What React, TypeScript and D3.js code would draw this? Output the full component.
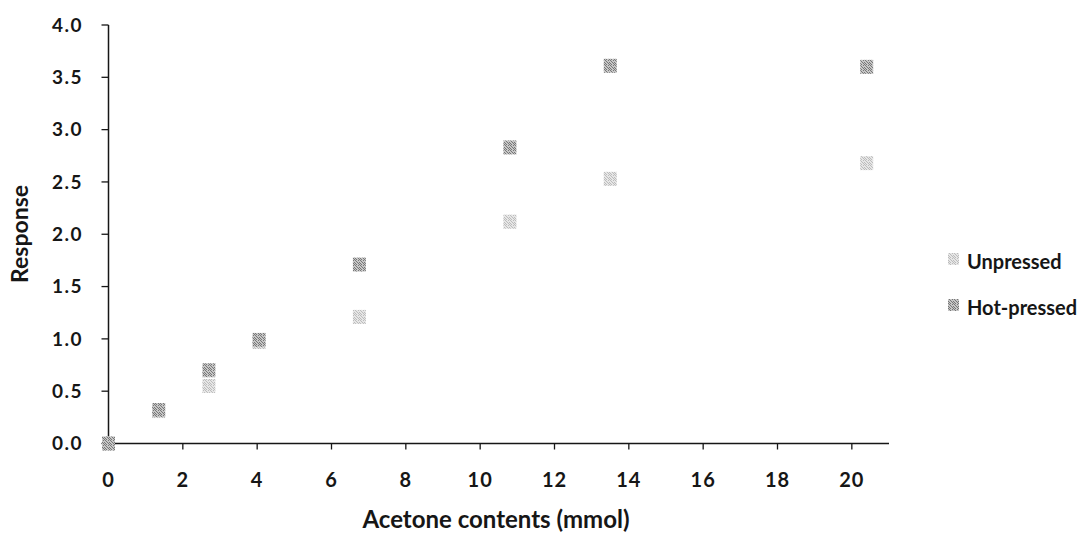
import * as d3 from "d3";

const acetone = [0, 1.35, 2.7, 4.05, 6.75, 10.8, 13.5, 20.4];
const unpressed = [0, 0.31, 0.55, 0.97, 1.21, 2.12, 2.53, 2.68];
const hotPressed = [0, 0.32, 0.7, 0.99, 1.71, 2.83, 3.61, 3.6];
const xTicks = [0, 2, 4, 6, 8, 10, 12, 14, 16, 18, 20];
const yTicks = [0, 0.5, 1, 1.5, 2, 2.5, 3, 3.5, 4];
const seriesNames = ["Unpressed", "Hot-pressed"];

const W = 1092;
const H = 535;
const FONT = "Lato, 'Open Sans', sans-serif";
const INK = "#161616";

const x = d3.scaleLinear().domain([0, 21]).range([108.5, 889]);
const y = d3.scaleLinear().domain([0, 4]).range([443.5, 25]);

// the scan shows speckled grey squares, so fill them with an uneven dot pattern
const patterns = [
  { id: "speck-un", base: "#e6e6e6", dot: "#bcbcbc" },
  { id: "speck-hp", base: "#c6c6c6", dot: "#777777" },
];
const speckCells = [
  [0, 0], [3, 0], [1, 1], [4, 2], [2, 2], [0, 3], [3, 3], [1, 4], [4, 4],
];

function Marker({ cx, cy, fill }: { cx: number; cy: number; fill: string }) {
  return <rect x={cx - 6.5} y={cy - 7} width={13} height={14} fill={fill} />;
}

export default function App() {
  const series = [unpressed, hotPressed];
  return (
    <svg
      width={W}
      height={H}
      style={{ position: "absolute", left: 0, top: 0, background: "#fff" }}
      fontFamily={FONT}
      fontWeight="bold"
    >
      <defs>
        {patterns.map((p) => (
          <pattern key={p.id} id={p.id} width={5} height={5} patternUnits="userSpaceOnUse">
            <rect width={5} height={5} fill={p.base} />
            {speckCells.map(([cx, cy]) => (
              <rect key={`${cx}-${cy}`} x={cx} y={cy} width={1} height={1} fill={p.dot} />
            ))}
          </pattern>
        ))}
      </defs>

      {/* y axis */}
      <line x1={x(0)} x2={x(0)} y1={y(4)} y2={y(0)} stroke={INK} strokeWidth={1.5} />
      {yTicks.map((t) => (
        <g key={`y${t}`}>
          <line x1={x(0) - 7} x2={x(0)} y1={y(t)} y2={y(t)} stroke={INK} strokeWidth={1.3} />
          <text
            x={83}
            y={y(t)}
            dy="0.36em"
            textAnchor="end"
            fontSize={19}
            letterSpacing={1.5}
            fill={INK}
          >
            {d3.format(".1f")(t)}
          </text>
        </g>
      ))}

      {/* x axis */}
      <line x1={x(0)} x2={x(21)} y1={y(0)} y2={y(0)} stroke={INK} strokeWidth={1.5} />
      {xTicks.map((t) => (
        <g key={`x${t}`}>
          {t > 0 && (
            <line x1={x(t)} x2={x(t)} y1={y(0)} y2={y(0) + 6} stroke={INK} strokeWidth={1.3} />
          )}
          <text x={x(t)} y={487} textAnchor="middle" fontSize={20} letterSpacing={1} fill={INK}>
            {t}
          </text>
        </g>
      ))}

      {/* axis titles */}
      <text
        transform={`translate(28,234) rotate(-90)`}
        textAnchor="middle"
        fontSize={23}
        fill={INK}
      >
        Response
      </text>
      <text x={496} y={528} textAnchor="middle" fontSize={24} fill={INK}>
        Acetone contents (mmol)
      </text>

      {/* points */}
      {series.map((vals, si) => (
        <g key={seriesNames[si]}>
          {vals.map((v, i) => (
            <Marker key={i} cx={x(acetone[i])} cy={y(v)} fill={`url(#${patterns[si].id})`} />
          ))}
        </g>
      ))}

      {/* legend */}
      {seriesNames.map((name, i) => (
        <g key={name} transform={`translate(954,${263 + i * 46})`}>
          <rect x={-6} y={-10} width={11} height={12} fill={`url(#${patterns[i].id})`} />
          <text x={13} y={0} dy="0.3em" fontSize={20} fill={INK}>
            {name}
          </text>
        </g>
      ))}
    </svg>
  );
}
